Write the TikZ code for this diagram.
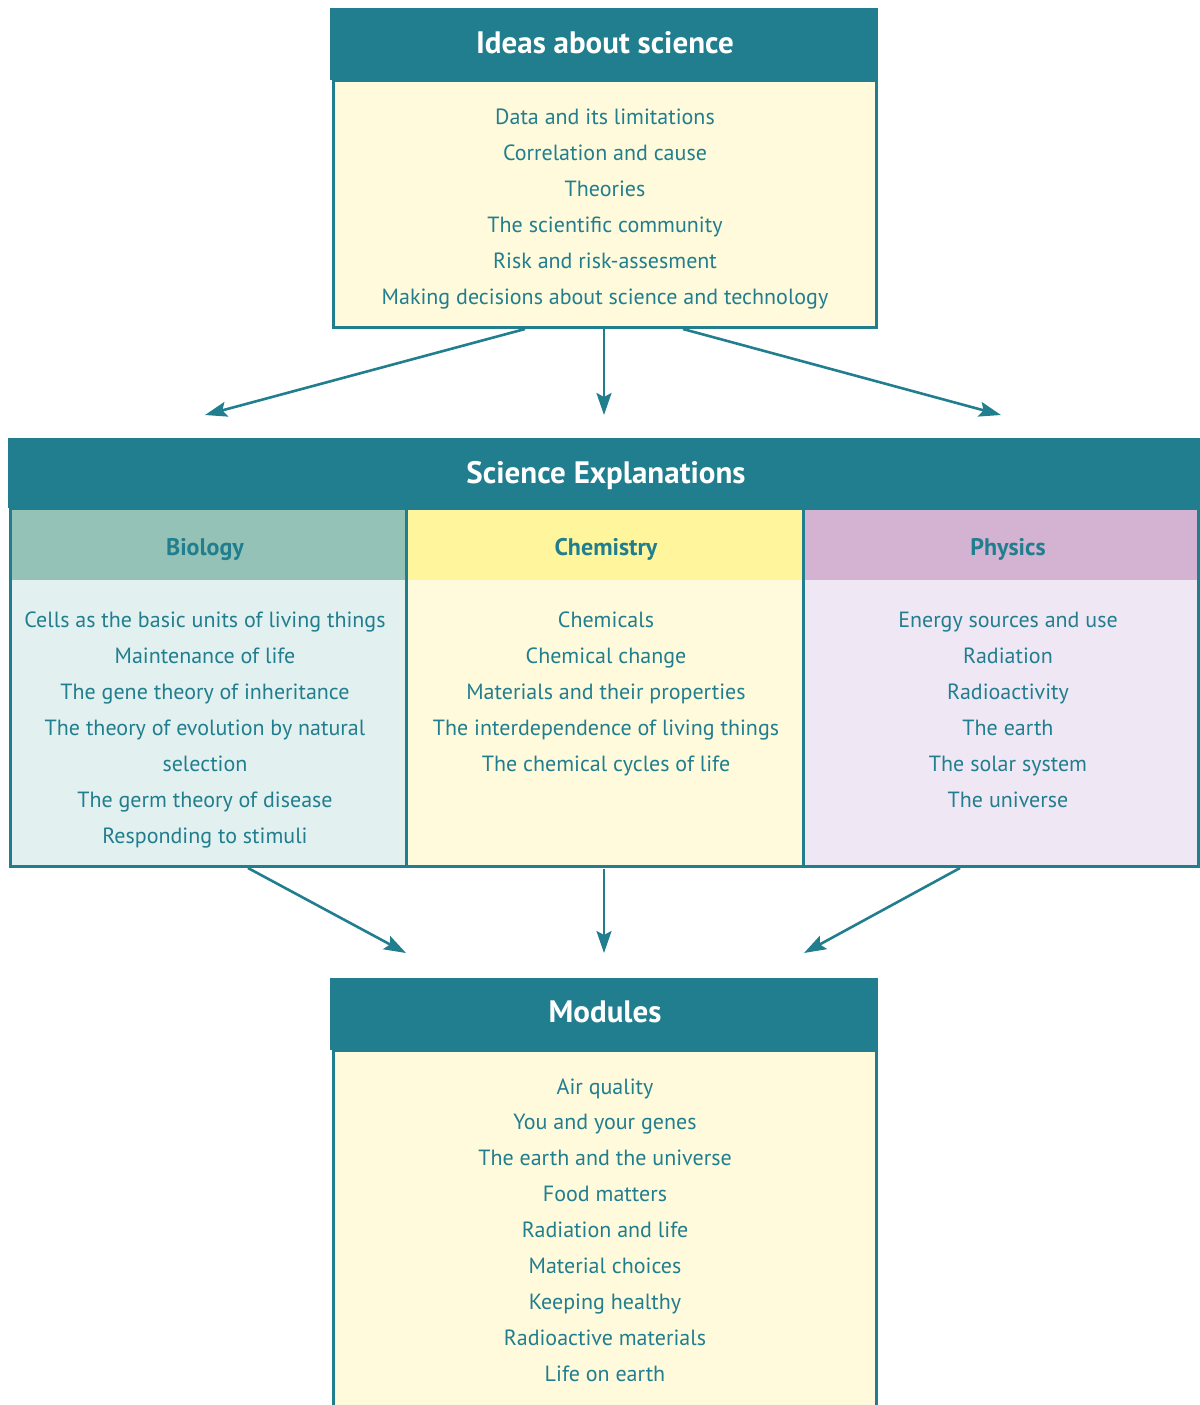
\documentclass[tikz,border=0pt]{standalone}
\usepackage{fontspec}
\setmainfont{PT Sans}
\usetikzlibrary{arrows.meta}
\definecolor{deepteal}{RGB}{33,126,142}
\definecolor{paleyellow}{RGB}{254,250,219}
\definecolor{bioheadc}{RGB}{148,194,182}
\definecolor{biobodyc}{RGB}{226,240,239}
\definecolor{chemheadc}{RGB}{254,245,157}
\definecolor{physheadc}{RGB}{212,178,209}
\definecolor{physbodyc}{RGB}{240,231,245}
\begin{document}
\begin{tikzpicture}[x=0.5pt,y=-0.5pt,
  box/.style={rectangle, inner sep=0pt, outer sep=0pt, anchor=north west},
  head/.style={box, fill=deepteal},
  framebox/.style={box, draw=deepteal, line width=1.5pt},
  title/.style={anchor=base, inner sep=0pt, text=white, font=\fontsize{15.5}{18}\selectfont\bfseries},
  subtitle/.style={anchor=base, inner sep=0pt, text=deepteal, font=\fontsize{12}{14}\selectfont\bfseries},
  item/.style={anchor=base, inner sep=0pt, text=deepteal, font=\fontsize{11}{14}\selectfont},
  arr/.style={draw=deepteal, line width=1.3pt, -{Stealth[length=11pt,width=7.5pt,inset=2pt]}}]
\useasboundingbox (0,0) rectangle (1200,1405);

% ---- Ideas about science ----
\node[framebox, fill=paleyellow, minimum width=271.5pt, minimum height=123.5pt] (ideasbody) at (333.5,80) {};
\node[head, minimum width=274pt, minimum height=36pt] (ideashead) at (330,8) {};
\node[title] (ideastitle) at (605,53) {Ideas about science};
\foreach \t [count=\i] in {Data and its limitations, Correlation and cause, Theories,
  The scientific community, Risk and risk-assesment,
  Making decisions about science and technology}
  \node[item] (idea\i) at (605,{124+36*(\i-1)}) {\t};

% ---- Science explanations ----
\node[box, fill=bioheadc, minimum width=198pt, minimum height=36pt] (biohead) at (10,508) {};
\node[box, fill=biobodyc, minimum width=198pt, minimum height=143pt] (biobody) at (10,580) {};
\node[box, fill=chemheadc, minimum width=198.5pt, minimum height=36pt] (chemhead) at (406,508) {};
\node[box, fill=paleyellow, minimum width=198.5pt, minimum height=143pt] (chembody) at (406,580) {};
\node[box, fill=physheadc, minimum width=197.5pt, minimum height=36pt] (physhead) at (803,508) {};
\node[box, fill=physbodyc, minimum width=197.5pt, minimum height=143pt] (physbody) at (803,580) {};
\node[framebox, minimum width=594pt, minimum height=179pt] (sciframe) at (10.5,508) {};
\draw[deepteal, line width=1.5pt] (biohead.north east) -- (biobody.south east);
\draw[deepteal, line width=1.5pt] (chemhead.north east) -- (chembody.south east);
\node[head, minimum width=596pt, minimum height=35pt] (scihead) at (8,438) {};
\node[title] (scititle) at (606,483) {Science Explanations};

\node[subtitle] (biotitle) at (205,555) {Biology};
\node[subtitle] (chemtitle) at (606,555) {Chemistry};
\node[subtitle] (phystitle) at (1008,555) {Physics};

\foreach \t [count=\i] in {Cells as the basic units of living things, Maintenance of life,
  The gene theory of inheritance, The theory of evolution by natural, selection,
  The germ theory of disease, Responding to stimuli}
  \node[item] (bio\i) at (205,{627+36*(\i-1)}) {\t};
\foreach \t [count=\i] in {Chemicals, Chemical change, Materials and their properties,
  The interdependence of living things, The chemical cycles of life}
  \node[item] (chem\i) at (606,{627+36*(\i-1)}) {\t};
\foreach \t [count=\i] in {Energy sources and use, Radiation, Radioactivity,
  The earth, The solar system, The universe}
  \node[item] (phys\i) at (1008,{627+36*(\i-1)}) {\t};

% ---- Modules ----
\node[framebox, fill=paleyellow, minimum width=271.5pt, minimum height=182pt] (modbody) at (333.5,1050) {};
\node[head, minimum width=274pt, minimum height=36pt] (modhead) at (330,978) {};
\node[title] (modtitle) at (605,1022) {Modules};
\foreach \t [count=\i] in {Air quality, You and your genes, The earth and the universe,
  Food matters, Radiation and life, Material choices, Keeping healthy,
  Radioactive materials, Life on earth}
  \node[item] (mod\i) at (605,{1094+35.9*(\i-1)}) {\t};

% ---- connectors ----
\coordinate (ia) at (525,329);
\coordinate (ib) at (604,329);
\coordinate (ic) at (683,329);
\coordinate (ta) at (205,415);
\coordinate (tb) at (604,415);
\coordinate (tc) at (1001,415);
\draw[arr] (ia) -- (ta);
\draw[arr] (ib) -- (tb);
\draw[arr] (ic) -- (tc);

\coordinate (sa) at (248,868);
\coordinate (sb) at (604,869);
\coordinate (sc) at (960,868);
\coordinate (ma) at (406,953);
\coordinate (mb) at (604,953);
\coordinate (mc) at (804,953);
\draw[arr] (sa) -- (ma);
\draw[arr] (sb) -- (mb);
\draw[arr] (sc) -- (mc);
\end{tikzpicture}
\end{document}
